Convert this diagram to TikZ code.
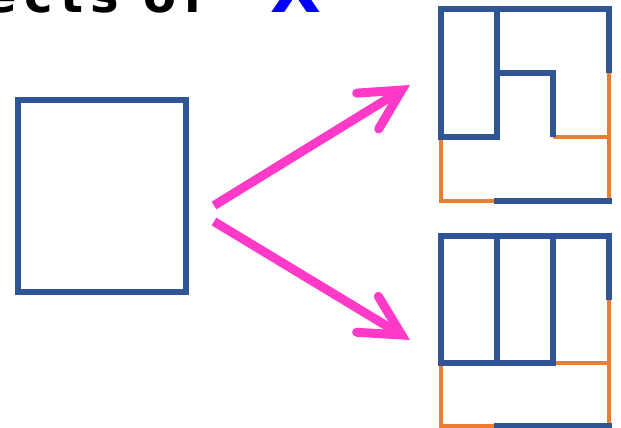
\documentclass[tikz,border=0pt]{standalone}
\usepackage{fontspec}
\setmainfont{DejaVu Sans}
\newfontfamily\headfont[LetterSpace=15.4]{DejaVu Sans}
\usetikzlibrary{arrows.meta}
\definecolor{frameblue}{RGB}{47,85,151}
\definecolor{cutorange}{RGB}{237,125,49}
\definecolor{arrowpink}{RGB}{255,58,200}
\definecolor{varblue}{RGB}{0,0,255}
\tikzset{
  blueseg/.style={draw=frameblue, line width=6pt, line join=miter},
  blueend/.style={blueseg, line cap=rect},
  orangeseg/.style={draw=cutorange, line width=4.5pt, line join=miter},
  splitarrow/.style={draw=arrowpink, line width=9pt,
    -{Straight Barb[length=40pt, width=42pt, line width=9pt, line cap=round, line join=miter]}},
}
\begin{document}
\begin{tikzpicture}[x=1pt, y=-1pt]
\useasboundingbox (0,0) rectangle (621,428);

% heading, mostly above the page edge
\node[anchor=base west, inner sep=0] (caption) at (-15.4,12.5)
  {\headfont\bfseries\fontsize{48}{50}\selectfont ects of};
\node[anchor=base, inner sep=0, text=varblue] (var) at (296,12.5)
  {\bfseries\fontsize{66}{68}\selectfont X};

% the whole block
\node[draw=frameblue, line width=6pt, minimum width=168pt, minimum height=192pt,
      inner sep=0] (src) at (102,195.5) {};

% first way of cutting it
\path[orangeseg] (609,73) -- (609,201);
\path[orangeseg] (553,137) -- (609,137);
\path[orangeseg] (441,137) -- (441,201) -- (497,201);
\path[blueseg] (497,137) -- (441,137) -- (441,9) -- (609,9) -- (609,73);
\path[blueend] (497,9) -- (497,137);
\path[blueseg] (497,73) -- (553,73) -- (553,137);
\path[blueend] (497,201) -- (609,201);

% second way of cutting it
\path[orangeseg] (609,300) -- (609,426);
\path[orangeseg] (553,363) -- (609,363);
\path[orangeseg] (441,363) -- (441,426) -- (497,426);
\path[blueseg] (553,363) -- (441,363) -- (441,236) -- (609,236) -- (609,300);
\path[blueend] (497,236) -- (497,363);
\path[blueend] (553,236) -- (553,363);
\path[blueend] (497,426) -- (609,426);

% arrows from the block to the two cuttings
\coordinate (upFrom) at (214,205.5);
\coordinate (upTo) at (410,85);
\coordinate (downFrom) at (214,221.5);
\coordinate (downTo) at (410,340);
\draw[splitarrow] (upFrom) -- (upTo);
\draw[splitarrow] (downFrom) -- (downTo);
\end{tikzpicture}
\end{document}
